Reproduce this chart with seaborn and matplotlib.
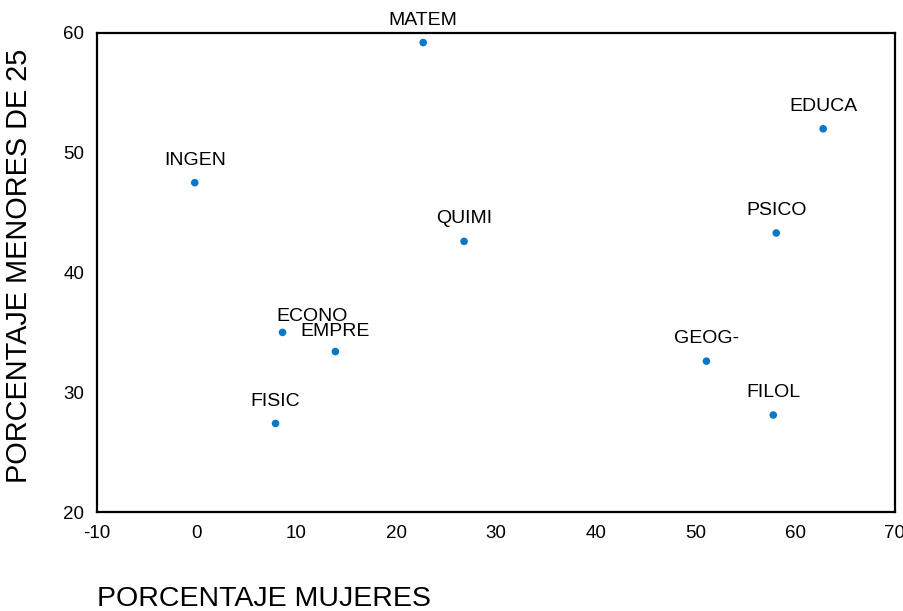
import matplotlib
matplotlib.use("Agg")
import matplotlib.pyplot as plt
import pandas as pd
import seaborn as sns

# ---------------------------------------------------------------------------
# Data
# ---------------------------------------------------------------------------
carreras = ["MATEM", "EDUCA", "INGEN", "QUIMI", "PSICO",
            "ECONO", "EMPRE", "GEOG-", "FISIC", "FILOL"]
pct_mujeres = [22.7, 62.8, -0.2, 26.8, 58.1, 8.6, 13.9, 51.1, 7.9, 57.8]
pct_menores25 = [59.2, 52.0, 47.5, 42.6, 43.3, 35.0, 33.4, 32.6, 27.4, 28.1]

x_ticks = [-10, 0, 10, 20, 30, 40, 50, 60, 70]
y_ticks = [20, 30, 40, 50, 60]

df = pd.DataFrame({"mujeres": pct_mujeres, "menores": pct_menores25,
                   "carrera": carreras})

# label offsets in points; ECONO is pushed aside like in the original output
label_offset = {"ECONO": (21, 5), "EMPRE": (0, 8)}

# ---------------------------------------------------------------------------
# Plot
# ---------------------------------------------------------------------------
sns.set_style("white")
plt.rcParams["font.family"] = ["Liberation Sans", "DejaVu Sans"]
plt.rcParams["axes.unicode_minus"] = False

fig = plt.figure(figsize=(9.04, 6.11), dpi=100)
ax = fig.add_axes([0.1073, 0.162, 0.8827, 0.784])

sns.scatterplot(data=df, x="mujeres", y="menores", ax=ax, s=30,
                color="#0a78c4", edgecolor="none", zorder=3, clip_on=False)

for _, row in df.iterrows():
    off = label_offset.get(row["carrera"], (0, 10))
    ax.annotate(row["carrera"], (row["mujeres"], row["menores"]),
                xytext=off, textcoords="offset points",
                ha="center", va="bottom", fontsize=14, color="black")

ax.set_xlim(-10, 70)
ax.set_ylim(20, 60)
ax.set_xticks(x_ticks)
ax.set_yticks(y_ticks)
ax.tick_params(direction="out", length=3, width=2.5, labelsize=13.5,
               colors="black", pad=6)

for side in ["top", "right", "bottom", "left"]:
    ax.spines[side].set_visible(True)
    ax.spines[side].set_color("black")
    ax.spines[side].set_linewidth(1.6)

ax.set_xlabel("PORCENTAJE MUJERES", fontsize=20.5, ha="left", color="black")
ax.xaxis.set_label_coords(0.0, -0.155)
ax.set_ylabel("PORCENTAJE MENORES DE 25", fontsize=20.8, color="black")
ax.yaxis.set_label_coords(-0.080, 0.514)

fig.savefig("out.png", dpi=100)
plt.close(fig)
